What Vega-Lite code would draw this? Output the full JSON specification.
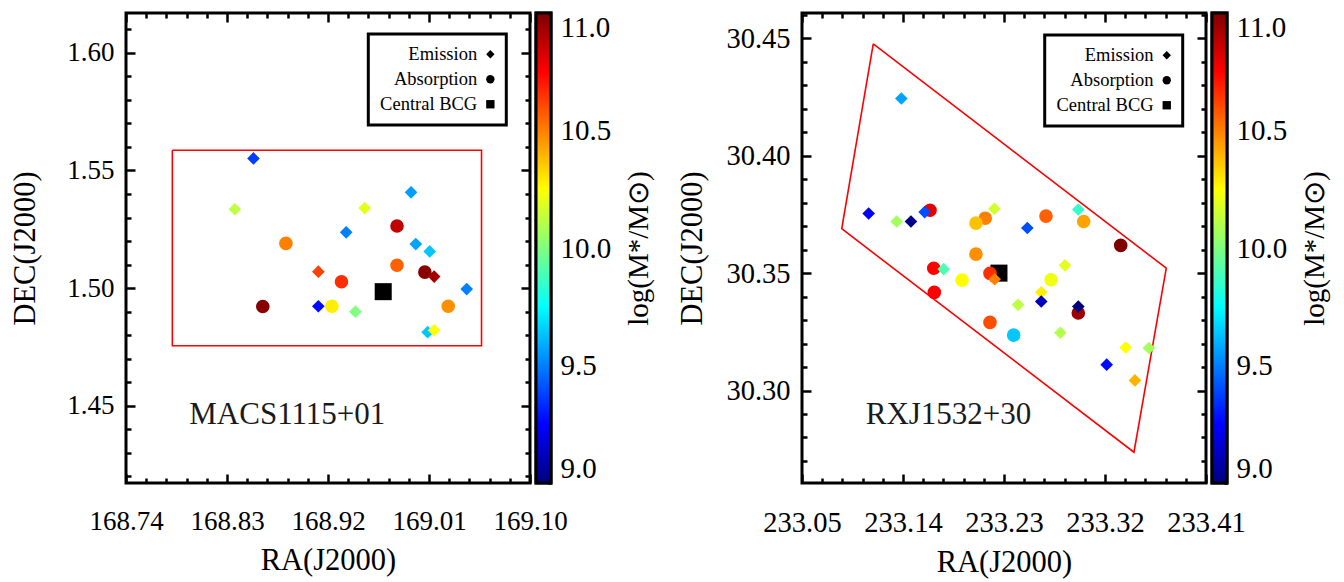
{
  "$schema": "https://vega.github.io/schema/vega-lite/v6.json",
  "background": "white",
  "padding": {"left": 9, "top": 10, "right": 0, "bottom": 0},
  "config": {
    "view": {"stroke": "black", "strokeWidth": 3},
    "font": "Liberation Serif",
    "axis": {"labelFont": "Liberation Serif", "titleFont": "Liberation Serif", "labelColor": "black", "titleColor": "black", "titleFontWeight": "normal", "grid": false, "domain": false, "tickColor": "black", "tickWidth": 2.5, "labelFlush": false, "labelOverlap": false, "labelBound": false},
    "legend": {"labelFont": "Liberation Serif", "titleFont": "Liberation Serif", "strokeWidth": 3}
  },
  "resolve": {"scale": {"shape": "independent", "color": "independent"}, "legend": {"shape": "independent"}},
  "datasets": {
    "macs": [
      {"ra": 168.9692, "dec": 1.4985, "mass": null, "type": "Central BCG"},
      {"ra": 168.8536, "dec": 1.5551, "mass": 9.37, "type": "Emission"},
      {"ra": 168.8370, "dec": 1.5335, "mass": 10.12, "type": "Emission"},
      {"ra": 168.8825, "dec": 1.5190, "mass": 10.5, "type": "Absorption"},
      {"ra": 168.9114, "dec": 1.5070, "mass": 10.62, "type": "Emission"},
      {"ra": 168.8619, "dec": 1.4922, "mass": 10.98, "type": "Absorption"},
      {"ra": 168.9114, "dec": 1.4923, "mass": 9.27, "type": "Emission"},
      {"ra": 168.9235, "dec": 1.4923, "mass": 10.28, "type": "Absorption"},
      {"ra": 168.9940, "dec": 1.5407, "mass": 9.56, "type": "Emission"},
      {"ra": 168.9527, "dec": 1.5340, "mass": 10.2, "type": "Emission"},
      {"ra": 168.9815, "dec": 1.5264, "mass": 10.87, "type": "Absorption"},
      {"ra": 168.9362, "dec": 1.5237, "mass": 9.5, "type": "Emission"},
      {"ra": 168.9982, "dec": 1.5187, "mass": 9.57, "type": "Emission"},
      {"ra": 169.0106, "dec": 1.5156, "mass": 9.64, "type": "Emission"},
      {"ra": 168.9815, "dec": 1.5097, "mass": 10.56, "type": "Absorption"},
      {"ra": 169.0063, "dec": 1.5068, "mass": 10.98, "type": "Absorption"},
      {"ra": 169.0146, "dec": 1.5049, "mass": 10.93, "type": "Emission"},
      {"ra": 168.9320, "dec": 1.5027, "mass": 10.66, "type": "Absorption"},
      {"ra": 169.0436, "dec": 1.4996, "mass": 9.5, "type": "Emission"},
      {"ra": 168.9444, "dec": 1.4900, "mass": 10.0, "type": "Emission"},
      {"ra": 169.0271, "dec": 1.4923, "mass": 10.47, "type": "Absorption"},
      {"ra": 169.0088, "dec": 1.4813, "mass": 9.64, "type": "Emission"},
      {"ra": 169.0146, "dec": 1.4821, "mass": 10.25, "type": "Emission"}
    ],
    "macs_region": [
      {"i": 0, "ra": 168.7813, "dec": 1.5586},
      {"i": 1, "ra": 169.0568, "dec": 1.5586},
      {"i": 2, "ra": 169.0568, "dec": 1.4755},
      {"i": 3, "ra": 168.7813, "dec": 1.4755},
      {"i": 4, "ra": 168.7813, "dec": 1.5586}
    ],
    "rxj": [
      {"ra": 233.2255, "dec": 30.3500, "mass": null, "type": "Central BCG"},
      {"ra": 233.1385, "dec": 30.4244, "mass": 9.57, "type": "Emission"},
      {"ra": 233.1094, "dec": 30.3754, "mass": 9.25, "type": "Emission"},
      {"ra": 233.1344, "dec": 30.3720, "mass": 10.07, "type": "Emission"},
      {"ra": 233.1471, "dec": 30.3720, "mass": 9.02, "type": "Emission"},
      {"ra": 233.1641, "dec": 30.3768, "mass": 10.8, "type": "Absorption"},
      {"ra": 233.1593, "dec": 30.3760, "mass": 9.4, "type": "Emission"},
      {"ra": 233.2133, "dec": 30.3734, "mass": 10.5, "type": "Absorption"},
      {"ra": 233.2050, "dec": 30.3713, "mass": 10.37, "type": "Absorption"},
      {"ra": 233.2214, "dec": 30.3774, "mass": 10.16, "type": "Emission"},
      {"ra": 233.2050, "dec": 30.3581, "mass": 10.47, "type": "Absorption"},
      {"ra": 233.1674, "dec": 30.3521, "mass": 10.75, "type": "Absorption"},
      {"ra": 233.1763, "dec": 30.3517, "mass": 9.9, "type": "Emission"},
      {"ra": 233.1926, "dec": 30.3470, "mass": 10.25, "type": "Absorption"},
      {"ra": 233.1679, "dec": 30.3418, "mass": 10.75, "type": "Absorption"},
      {"ra": 233.2175, "dec": 30.3499, "mass": 10.66, "type": "Absorption"},
      {"ra": 233.2217, "dec": 30.3474, "mass": 10.5, "type": "Emission"},
      {"ra": 233.2175, "dec": 30.3290, "mass": 10.6, "type": "Absorption"},
      {"ra": 233.2674, "dec": 30.3743, "mass": 10.56, "type": "Absorption"},
      {"ra": 233.2962, "dec": 30.3771, "mass": 9.85, "type": "Emission"},
      {"ra": 233.3010, "dec": 30.3720, "mass": 10.43, "type": "Absorption"},
      {"ra": 233.2508, "dec": 30.3692, "mass": 9.4, "type": "Emission"},
      {"ra": 233.3340, "dec": 30.3618, "mass": 11.0, "type": "Absorption"},
      {"ra": 233.2843, "dec": 30.3533, "mass": 10.2, "type": "Emission"},
      {"ra": 233.2719, "dec": 30.3472, "mass": 10.22, "type": "Absorption"},
      {"ra": 233.2632, "dec": 30.3418, "mass": 10.28, "type": "Emission"},
      {"ra": 233.2632, "dec": 30.3379, "mass": 9.12, "type": "Emission"},
      {"ra": 233.2425, "dec": 30.3365, "mass": 10.12, "type": "Emission"},
      {"ra": 233.2962, "dec": 30.3330, "mass": 10.94, "type": "Absorption"},
      {"ra": 233.2962, "dec": 30.3358, "mass": 9.0, "type": "Emission"},
      {"ra": 233.2386, "dec": 30.3236, "mass": 9.64, "type": "Absorption"},
      {"ra": 233.2802, "dec": 30.3246, "mass": 10.1, "type": "Emission"},
      {"ra": 233.3384, "dec": 30.3183, "mass": 10.25, "type": "Emission"},
      {"ra": 233.3592, "dec": 30.3181, "mass": 10.07, "type": "Emission"},
      {"ra": 233.3215, "dec": 30.3110, "mass": 9.27, "type": "Emission"},
      {"ra": 233.3467, "dec": 30.3043, "mass": 10.4, "type": "Emission"}
    ],
    "rxj_region": [
      {"i": 0, "ra": 233.1135, "dec": 30.4476},
      {"i": 1, "ra": 233.3746, "dec": 30.3521},
      {"i": 2, "ra": 233.3458, "dec": 30.2737},
      {"i": 3, "ra": 233.0854, "dec": 30.3689},
      {"i": 4, "ra": 233.1135, "dec": 30.4476}
    ]
  },
  "spacing": 20,
  "hconcat": [
    {
      "bounds": "flush",
      "spacing": 6,
      "resolve": {"scale": {"shape": "independent", "color": "independent"}, "legend": {"shape": "independent"}},
      "hconcat": [
        {
          "width": 404,
          "height": 470,
          "resolve": {"axis": {"x": "independent", "y": "independent"}},
          "layer": [
            {
              "data": {"name": "macs_region"},
              "mark": {"type": "line", "color": "red", "strokeWidth": 1.6},
              "encoding": {
                "x": {"field": "ra", "type": "quantitative", "scale": {"domain": [168.74, 169.10], "nice": false, "zero": false},
                  "axis": {"orient": "bottom", "values": [168.74, 168.83, 168.92, 169.01, 169.10], "format": ".2f", "tickSize": 9, "offset": -9, "labelFont": "Liberation Serif", "labelFontSize": 27, "labelPadding": 25, "title": "RA(J2000)", "titleFont": "Liberation Serif", "titleFontSize": 30.5, "titlePadding": 11}},
                "y": {"field": "dec", "type": "quantitative", "scale": {"domain": [1.4172, 1.6169], "nice": false, "zero": false},
                  "axis": {"orient": "left", "values": [1.45, 1.50, 1.55, 1.60], "format": ".2f", "tickSize": 9, "offset": -9, "labelFont": "Liberation Serif", "labelFontSize": 27, "labelPadding": 12, "title": "DEC(J2000)", "titleFont": "Liberation Serif", "titleFontSize": 30.5, "titlePadding": 26}},
                "order": {"field": "i", "type": "quantitative"}
              }
            },
            {
              "data": {"name": "macs"},
              "transform": [{"filter": "datum.type === 'Central BCG'"}],
              "mark": {"type": "point", "filled": true, "opacity": 1, "color": "black", "size": 290},
              "encoding": {
                "x": {"field": "ra", "type": "quantitative", "scale": {"domain": [168.74, 169.10], "nice": false, "zero": false},
                  "axis": {"orient": "bottom", "values": [168.758, 168.776, 168.794, 168.812, 168.848, 168.866, 168.884, 168.902, 168.938, 168.956, 168.974, 168.992, 169.028, 169.046, 169.064, 169.082], "labels": false, "tickSize": 5, "offset": -5, "title": null}},
                "y": {"field": "dec", "type": "quantitative", "scale": {"domain": [1.4172, 1.6169], "nice": false, "zero": false},
                  "axis": {"orient": "left", "values": [1.42, 1.43, 1.44, 1.46, 1.47, 1.48, 1.49, 1.51, 1.52, 1.53, 1.54, 1.56, 1.57, 1.58, 1.59, 1.61], "labels": false, "tickSize": 5, "offset": -5, "title": null}},
                "shape": {"field": "type", "type": "nominal", "scale": {"domain": ["Emission", "Absorption", "Central BCG"], "range": ["diamond", "circle", "square"]},
                  "legend": {"title": null, "orient": "none", "legendX": 242.3, "legendY": 21, "direction": "vertical", "padding": 11, "rowPadding": 6, "labelAlign": "right", "labelOffset": -22.4, "symbolOffset": 101.8, "labelFont": "Liberation Serif", "labelFontSize": 18.5, "labelColor": "black", "symbolSize": 70, "symbolFillColor": "black", "symbolStrokeColor": "transparent", "symbolStrokeWidth": 0, "strokeColor": "black", "fillColor": "white", "encode": {"legend": {"strokeWidth": {"value": 3}}}}}
              }
            },
            {
              "data": {"name": "macs"},
              "transform": [{"filter": "datum.type === 'Absorption'"}],
              "mark": {"type": "point", "filled": true, "opacity": 1, "size": 185},
              "encoding": {
                "x": {"field": "ra", "type": "quantitative", "scale": {"domain": [168.74, 169.10], "nice": false, "zero": false},
                  "axis": {"orient": "top", "values": [168.74, 168.83, 168.92, 169.01, 169.10], "labels": false, "tickSize": 9, "offset": -9, "title": null}},
                "y": {"field": "dec", "type": "quantitative", "scale": {"domain": [1.4172, 1.6169], "nice": false, "zero": false},
                  "axis": {"orient": "right", "values": [1.45, 1.50, 1.55, 1.60], "labels": false, "tickSize": 9, "offset": -9, "title": null}},
                "color": {"field": "mass", "type": "quantitative", "scale": {"domain": [9, 9.25, 9.75, 10.25, 10.75, 11], "range": ["#00007f", "#0000ff", "#00ffff", "#ffff00", "#ff0000", "#7f0000"], "interpolate": "rgb"}, "legend": null},
                "shape": {"field": "type", "type": "nominal", "scale": {"domain": ["Emission", "Absorption", "Central BCG"], "range": ["diamond", "circle", "square"]},
                  "legend": {"title": null, "orient": "none", "legendX": 242.3, "legendY": 21, "direction": "vertical", "padding": 11, "rowPadding": 6, "labelAlign": "right", "labelOffset": -22.4, "symbolOffset": 101.8, "labelFont": "Liberation Serif", "labelFontSize": 18.5, "labelColor": "black", "symbolSize": 70, "symbolFillColor": "black", "symbolStrokeColor": "transparent", "symbolStrokeWidth": 0, "strokeColor": "black", "fillColor": "white", "encode": {"legend": {"strokeWidth": {"value": 3}}}}}
              }
            },
            {
              "data": {"name": "macs"},
              "transform": [{"filter": "datum.type === 'Emission'"}],
              "mark": {"type": "point", "filled": true, "opacity": 1, "size": 160},
              "encoding": {
                "x": {"field": "ra", "type": "quantitative", "scale": {"domain": [168.74, 169.10], "nice": false, "zero": false},
                  "axis": {"orient": "top", "values": [168.758, 168.776, 168.794, 168.812, 168.848, 168.866, 168.884, 168.902, 168.938, 168.956, 168.974, 168.992, 169.028, 169.046, 169.064, 169.082], "labels": false, "tickSize": 5, "offset": -5, "title": null}},
                "y": {"field": "dec", "type": "quantitative", "scale": {"domain": [1.4172, 1.6169], "nice": false, "zero": false},
                  "axis": {"orient": "right", "values": [1.42, 1.43, 1.44, 1.46, 1.47, 1.48, 1.49, 1.51, 1.52, 1.53, 1.54, 1.56, 1.57, 1.58, 1.59, 1.61], "labels": false, "tickSize": 5, "offset": -5, "title": null}},
                "color": {"field": "mass", "type": "quantitative", "scale": {"domain": [9, 9.25, 9.75, 10.25, 10.75, 11], "range": ["#00007f", "#0000ff", "#00ffff", "#ffff00", "#ff0000", "#7f0000"], "interpolate": "rgb"}, "legend": null},
                "shape": {"field": "type", "type": "nominal", "scale": {"domain": ["Emission", "Absorption", "Central BCG"], "range": ["diamond", "circle", "square"]},
                  "legend": {"title": null, "orient": "none", "legendX": 242.3, "legendY": 21, "direction": "vertical", "padding": 11, "rowPadding": 6, "labelAlign": "right", "labelOffset": -22.4, "symbolOffset": 101.8, "labelFont": "Liberation Serif", "labelFontSize": 18.5, "labelColor": "black", "symbolSize": 70, "symbolFillColor": "black", "symbolStrokeColor": "transparent", "symbolStrokeWidth": 0, "strokeColor": "black", "fillColor": "white", "encode": {"legend": {"strokeWidth": {"value": 3}}}}}
              }
            },
            {
              "data": {"values": [{"name": "MACS1115+01"}]},
              "mark": {"type": "text", "align": "left", "baseline": "alphabetic", "fontSize": 31, "font": "Liberation Serif", "color": "#1a1a1a"},
              "encoding": {
                "x": {"datum": 168.7964, "type": "quantitative", "scale": {"domain": [168.74, 169.10], "nice": false, "zero": false}, "axis": null},
                "y": {"datum": 1.4421, "type": "quantitative", "scale": {"domain": [1.4172, 1.6169], "nice": false, "zero": false}, "axis": null},
                "text": {"field": "name"}
              }
            }
          ]
        },
        {
          "width": 15,
          "height": 470,
          "data": {"values": [{"lo": 9, "hi": 11}]},
          "mark": {"type": "rect", "stroke": "black", "strokeWidth": 3,
            "fill": {"gradient": "linear", "x1": 0, "y1": 1, "x2": 0, "y2": 0, "stops": [
              {"offset": 0, "color": "#00007f"}, {"offset": 0.125, "color": "#0000ff"}, {"offset": 0.375, "color": "#00ffff"},
              {"offset": 0.625, "color": "#ffff00"}, {"offset": 0.875, "color": "#ff0000"}, {"offset": 1, "color": "#7f0000"}]}},
          "encoding": {
            "y": {"field": "lo", "type": "quantitative", "scale": {"domain": [9, 11], "nice": false, "zero": false},
              "axis": {"orient": "right", "values": [9, 9.5, 10, 10.5, 11], "format": ".1f", "tickSize": 3, "offset": -3, "labelFlush": true, "labelFont": "Liberation Serif", "labelFontSize": 29, "labelPadding": 9, "title": "log(M*/M⊙)", "titleFont": "Liberation Serif", "titleAngle": -90, "titleBaseline": "top", "titleFontSize": 29, "titlePadding": 14}},
            "y2": {"field": "hi"}
          }
        }
      ]
    },
    {
      "bounds": "flush",
      "spacing": 6,
      "resolve": {"scale": {"shape": "independent", "color": "independent"}, "legend": {"shape": "independent"}},
      "hconcat": [
        {
          "width": 404,
          "height": 470,
          "resolve": {"axis": {"x": "independent", "y": "independent"}},
          "layer": [
            {
              "data": {"name": "rxj_region"},
              "mark": {"type": "line", "color": "red", "strokeWidth": 1.6},
              "encoding": {
                "x": {"field": "ra", "type": "quantitative", "scale": {"domain": [233.05, 233.41], "nice": false, "zero": false},
                  "axis": {"orient": "bottom", "values": [233.05, 233.14, 233.23, 233.32, 233.41], "format": ".2f", "tickSize": 9, "offset": -9, "labelFont": "Liberation Serif", "labelFontSize": 28.5, "labelPadding": 25, "title": "RA(J2000)", "titleFont": "Liberation Serif", "titleFontSize": 30.5, "titlePadding": 11}},
                "y": {"field": "dec", "type": "quantitative", "scale": {"domain": [30.2606, 30.4608], "nice": false, "zero": false},
                  "axis": {"orient": "left", "values": [30.30, 30.35, 30.40, 30.45], "format": ".2f", "tickSize": 9, "offset": -9, "labelFont": "Liberation Serif", "labelFontSize": 28.5, "labelPadding": 12, "title": "DEC(J2000)", "titleFont": "Liberation Serif", "titleFontSize": 30.5, "titlePadding": 18}},
                "order": {"field": "i", "type": "quantitative"}
              }
            },
            {
              "data": {"name": "rxj"},
              "transform": [{"filter": "datum.type === 'Central BCG'"}],
              "mark": {"type": "point", "filled": true, "opacity": 1, "color": "black", "size": 290},
              "encoding": {
                "x": {"field": "ra", "type": "quantitative", "scale": {"domain": [233.05, 233.41], "nice": false, "zero": false},
                  "axis": {"orient": "bottom", "values": [233.068, 233.086, 233.104, 233.122, 233.158, 233.176, 233.194, 233.212, 233.248, 233.266, 233.284, 233.302, 233.338, 233.356, 233.374, 233.392], "labels": false, "tickSize": 5, "offset": -5, "title": null}},
                "y": {"field": "dec", "type": "quantitative", "scale": {"domain": [30.2606, 30.4608], "nice": false, "zero": false},
                  "axis": {"orient": "left", "values": [30.27, 30.28, 30.29, 30.31, 30.32, 30.33, 30.34, 30.36, 30.37, 30.38, 30.39, 30.41, 30.42, 30.43, 30.44, 30.46], "labels": false, "tickSize": 5, "offset": -5, "title": null}},
                "shape": {"field": "type", "type": "nominal", "scale": {"domain": ["Emission", "Absorption", "Central BCG"], "range": ["diamond", "circle", "square"]},
                  "legend": {"title": null, "orient": "none", "legendX": 242.7, "legendY": 22, "direction": "vertical", "padding": 11, "rowPadding": 6, "labelAlign": "right", "labelOffset": -22.4, "symbolOffset": 101.8, "labelFont": "Liberation Serif", "labelFontSize": 18.5, "labelColor": "black", "symbolSize": 70, "symbolFillColor": "black", "symbolStrokeColor": "transparent", "symbolStrokeWidth": 0, "strokeColor": "black", "fillColor": "white", "encode": {"legend": {"strokeWidth": {"value": 3}}}}}
              }
            },
            {
              "data": {"name": "rxj"},
              "transform": [{"filter": "datum.type === 'Absorption'"}],
              "mark": {"type": "point", "filled": true, "opacity": 1, "size": 185},
              "encoding": {
                "x": {"field": "ra", "type": "quantitative", "scale": {"domain": [233.05, 233.41], "nice": false, "zero": false},
                  "axis": {"orient": "top", "values": [233.05, 233.14, 233.23, 233.32, 233.41], "labels": false, "tickSize": 9, "offset": -9, "title": null}},
                "y": {"field": "dec", "type": "quantitative", "scale": {"domain": [30.2606, 30.4608], "nice": false, "zero": false},
                  "axis": {"orient": "right", "values": [30.30, 30.35, 30.40, 30.45], "labels": false, "tickSize": 9, "offset": -9, "title": null}},
                "color": {"field": "mass", "type": "quantitative", "scale": {"domain": [9, 9.25, 9.75, 10.25, 10.75, 11], "range": ["#00007f", "#0000ff", "#00ffff", "#ffff00", "#ff0000", "#7f0000"], "interpolate": "rgb"}, "legend": null},
                "shape": {"field": "type", "type": "nominal", "scale": {"domain": ["Emission", "Absorption", "Central BCG"], "range": ["diamond", "circle", "square"]},
                  "legend": {"title": null, "orient": "none", "legendX": 242.7, "legendY": 22, "direction": "vertical", "padding": 11, "rowPadding": 6, "labelAlign": "right", "labelOffset": -22.4, "symbolOffset": 101.8, "labelFont": "Liberation Serif", "labelFontSize": 18.5, "labelColor": "black", "symbolSize": 70, "symbolFillColor": "black", "symbolStrokeColor": "transparent", "symbolStrokeWidth": 0, "strokeColor": "black", "fillColor": "white", "encode": {"legend": {"strokeWidth": {"value": 3}}}}}
              }
            },
            {
              "data": {"name": "rxj"},
              "transform": [{"filter": "datum.type === 'Emission'"}],
              "mark": {"type": "point", "filled": true, "opacity": 1, "size": 160},
              "encoding": {
                "x": {"field": "ra", "type": "quantitative", "scale": {"domain": [233.05, 233.41], "nice": false, "zero": false},
                  "axis": {"orient": "top", "values": [233.068, 233.086, 233.104, 233.122, 233.158, 233.176, 233.194, 233.212, 233.248, 233.266, 233.284, 233.302, 233.338, 233.356, 233.374, 233.392], "labels": false, "tickSize": 5, "offset": -5, "title": null}},
                "y": {"field": "dec", "type": "quantitative", "scale": {"domain": [30.2606, 30.4608], "nice": false, "zero": false},
                  "axis": {"orient": "right", "values": [30.27, 30.28, 30.29, 30.31, 30.32, 30.33, 30.34, 30.36, 30.37, 30.38, 30.39, 30.41, 30.42, 30.43, 30.44, 30.46], "labels": false, "tickSize": 5, "offset": -5, "title": null}},
                "color": {"field": "mass", "type": "quantitative", "scale": {"domain": [9, 9.25, 9.75, 10.25, 10.75, 11], "range": ["#00007f", "#0000ff", "#00ffff", "#ffff00", "#ff0000", "#7f0000"], "interpolate": "rgb"}, "legend": null},
                "shape": {"field": "type", "type": "nominal", "scale": {"domain": ["Emission", "Absorption", "Central BCG"], "range": ["diamond", "circle", "square"]},
                  "legend": {"title": null, "orient": "none", "legendX": 242.7, "legendY": 22, "direction": "vertical", "padding": 11, "rowPadding": 6, "labelAlign": "right", "labelOffset": -22.4, "symbolOffset": 101.8, "labelFont": "Liberation Serif", "labelFontSize": 18.5, "labelColor": "black", "symbolSize": 70, "symbolFillColor": "black", "symbolStrokeColor": "transparent", "symbolStrokeWidth": 0, "strokeColor": "black", "fillColor": "white", "encode": {"legend": {"strokeWidth": {"value": 3}}}}}
              }
            },
            {
              "data": {"values": [{"name": "RXJ1532+30"}]},
              "mark": {"type": "text", "align": "left", "baseline": "alphabetic", "fontSize": 31, "font": "Liberation Serif", "color": "#1a1a1a"},
              "encoding": {
                "x": {"datum": 233.1068, "type": "quantitative", "scale": {"domain": [233.05, 233.41], "nice": false, "zero": false}, "axis": null},
                "y": {"datum": 30.2857, "type": "quantitative", "scale": {"domain": [30.2606, 30.4608], "nice": false, "zero": false}, "axis": null},
                "text": {"field": "name"}
              }
            }
          ]
        },
        {
          "width": 15,
          "height": 470,
          "data": {"values": [{"lo": 9, "hi": 11}]},
          "mark": {"type": "rect", "stroke": "black", "strokeWidth": 3,
            "fill": {"gradient": "linear", "x1": 0, "y1": 1, "x2": 0, "y2": 0, "stops": [
              {"offset": 0, "color": "#00007f"}, {"offset": 0.125, "color": "#0000ff"}, {"offset": 0.375, "color": "#00ffff"},
              {"offset": 0.625, "color": "#ffff00"}, {"offset": 0.875, "color": "#ff0000"}, {"offset": 1, "color": "#7f0000"}]}},
          "encoding": {
            "y": {"field": "lo", "type": "quantitative", "scale": {"domain": [9, 11], "nice": false, "zero": false},
              "axis": {"orient": "right", "values": [9, 9.5, 10, 10.5, 11], "format": ".1f", "tickSize": 3, "offset": -3, "labelFlush": true, "labelFont": "Liberation Serif", "labelFontSize": 29, "labelPadding": 9, "title": "log(M*/M⊙)", "titleFont": "Liberation Serif", "titleAngle": -90, "titleBaseline": "top", "titleFontSize": 29, "titlePadding": 14}},
            "y2": {"field": "hi"}
          }
        }
      ]
    }
  ]
}
